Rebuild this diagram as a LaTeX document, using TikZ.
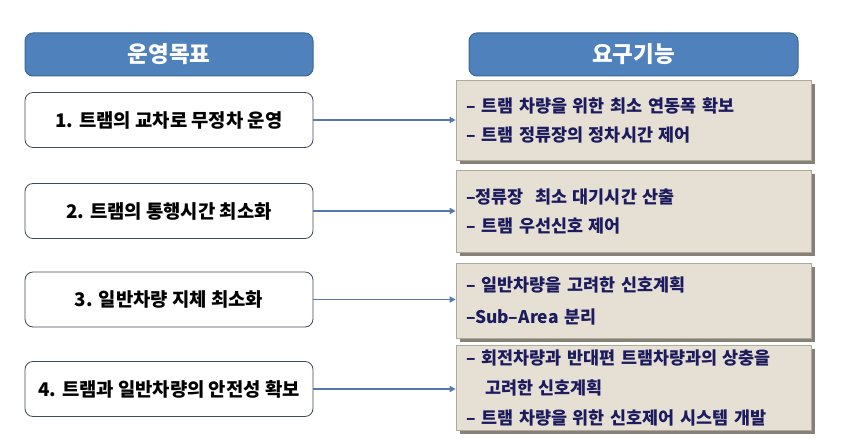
\documentclass[tikz,border=0pt]{standalone}
\usepackage{fontspec}
\newfontfamily\kr{Noto Sans CJK KR}
\usetikzlibrary{shadows,arrows.meta}
\definecolor{hdrblue}{HTML}{4F81BD}
\definecolor{hdrborder}{HTML}{3B6694}
\definecolor{beige}{HTML}{E6DFD3}
\definecolor{beigeborder}{HTML}{B0A898}
\definecolor{navy}{HTML}{1B1B5E}
\definecolor{arrowblue}{HTML}{5578AE}
\definecolor{shadowgray}{HTML}{858078}
\definecolor{leftborder}{HTML}{404A58}
\tikzset{
  hdr/.style={draw=hdrborder, line width=1pt, fill=hdrblue, rounded corners=8pt, text=white,
    font=\kr\bfseries\fontsize{22.5}{24}\selectfont, minimum height=43pt, inner sep=0pt},
  goalbox/.style={draw=leftborder, line width=0.8pt, fill=white, rounded corners=8pt,
    minimum width=288pt, minimum height=55pt, inner sep=0pt,
    font=\kr\bfseries\fontsize{18.8}{20}\selectfont},
  funcbox/.style={draw=beigeborder, line width=0.6pt, fill=beige, minimum width=355pt,
    text width=335pt, align=left, inner xsep=10pt, inner ysep=0pt, text=navy,
    font=\kr\bfseries\fontsize{17.4}{29}\selectfont,
    drop shadow={shadow xshift=4pt, shadow yshift=-4pt, fill=shadowgray, opacity=1}},
  link/.style={draw=arrowblue, line width=1.6pt, -{Triangle[length=6pt,width=6pt]}},
}
\begin{document}
\begin{tikzpicture}[x=1pt,y=-1pt]
\useasboundingbox (0,0) rectangle (860,446);
\node[hdr, minimum width=288pt] (h1) at (169,54.5) {운영목표};
\node[hdr, minimum width=329pt] (h2) at (633.5,54.5) {요구기능};

\node[goalbox] (g1) at (169,120) {1. 트램의 교차로 무정차 운영};
\node[goalbox] (g2) at (169,211) {2. 트램의 통행시간 최소화};
\node[goalbox] (g3) at (169,299.5) {3. 일반차량 지체 최소화};
\node[goalbox] (g4) at (169,389) {4. 트램과 일반차량의 안전성 확보};

\node[funcbox, minimum height=80pt] (f1) at (633.5,120) {– 트램 차량을 위한 최소 연동폭 확보\\– 트램 정류장의 정차시간 제어};
\node[funcbox, minimum height=82pt] (f2) at (633.5,211) {–정류장~ 최소 대기시간 산출\\– 트램 우선신호 제어};
\node[funcbox, minimum height=75pt] (f3) at (633.5,300.5) {– 일반차량을 고려한 신호계획\\[3pt]–Sub–Area 분리};
\node[funcbox, minimum height=85pt, font=\kr\bfseries\fontsize{17.4}{30}\selectfont] (f4) at (633.5,387.5) {– 회전차량과 반대편 트램차량과의 상충을\\\hspace*{1.1em}고려한 신호계획\\– 트램 차량을 위한 신호제어 시스템 개발};

\draw[link] (g1.east) -- (g1.east -| f1.west);
\draw[link] (g2.east) -- (g2.east -| f2.west);
\draw[link] (g3.east) -- (g3.east -| f3.west);
\draw[link] (g4.east) -- (g4.east -| f4.west);
\end{tikzpicture}
\end{document}
